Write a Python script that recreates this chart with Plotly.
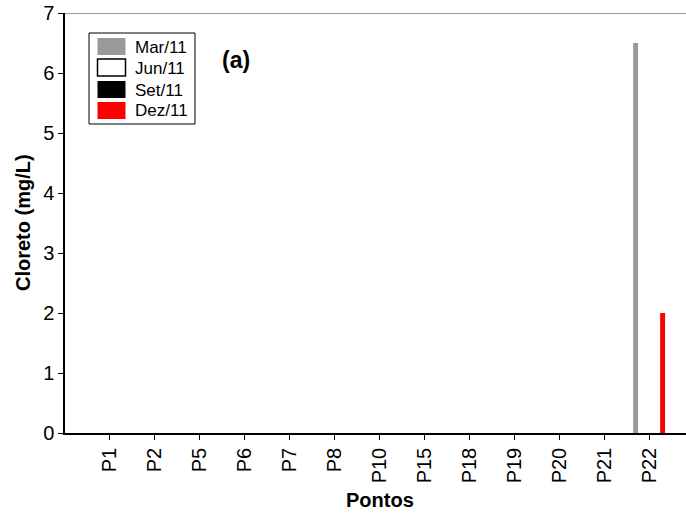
import plotly.graph_objects as go

pontos = ["P1", "P2", "P5", "P6", "P7", "P8", "P10", "P15", "P18", "P19", "P20", "P21", "P22"]
series_names = ["Mar/11", "Jun/11", "Set/11", "Dez/11"]
mar11 = [0, 0, 0, 0, 0, 0, 0, 0, 0, 0, 0, 0, 6.5]
jun11 = [0, 0, 0, 0, 0, 0, 0, 0, 0, 0, 0, 0, 0]
set11 = [0, 0, 0, 0, 0, 0, 0, 0, 0, 0, 0, 0, 0]
dez11 = [0, 0, 0, 0, 0, 0, 0, 0, 0, 0, 0, 0, 2.0]

fills = ["#999999", "#ffffff", "#000000", "#ff0000"]
offsets = [-0.355, -0.155, 0.045, 0.245]
bar_w = 0.11

FONT = "Liberation Sans, Arial, sans-serif"
W, H = 686, 517
ML, MR, MT, MB = 65, 0, 13, 84

fig = go.Figure()
for name, vals, fc, off in zip(series_names, [mar11, jun11, set11, dez11], fills, offsets):
    fig.add_trace(go.Bar(
        x=pontos, y=vals, name=name, width=bar_w, offset=off,
        marker=dict(color=fc, line=dict(width=0)),
        showlegend=False,
    ))

# pixel -> paper (plot-area) coordinates
def px(x):
    return (x - ML) / (W - ML - MR)
def py(y):
    return (H - MB - y) / (H - MT - MB)

# Boxed legend with wide swatches
shapes = [dict(type="rect", xref="paper", yref="paper",
               x0=px(89), x1=px(195), y0=py(124), y1=py(33),
               line=dict(color="black", width=1), fillcolor="white", layer="above")]
annotations = []
row_tops = [38, 59, 81, 102]
for name, top, fc in zip(series_names, row_tops, fills):
    outlined = fc == "#ffffff"
    shapes.append(dict(type="rect", xref="paper", yref="paper",
                       x0=px(97.5), x1=px(125.5), y0=py(top + 17), y1=py(top),
                       line=dict(color="black" if outlined else fc, width=1.5 if outlined else 0),
                       fillcolor=fc, layer="above"))
    annotations.append(dict(xref="paper", yref="paper", x=px(133), y=py(top + 9),
                            xanchor="left", yanchor="middle", text=name, showarrow=False,
                            font=dict(family=FONT, size=17, color="black")))

annotations.append(dict(xref="paper", yref="paper", x=px(220), y=py(60),
                        xanchor="left", yanchor="middle", text="<b>(a)</b>", showarrow=False,
                        font=dict(family=FONT, size=23, color="black")))

# Axis titles
annotations.append(dict(xref="paper", yref="paper", x=px(23), y=py(223),
                        xanchor="center", yanchor="middle", textangle=-90,
                        text="<b>Cloreto (mg/L)</b>", showarrow=False,
                        font=dict(family=FONT, size=20, color="black")))
annotations.append(dict(xref="paper", yref="paper", x=px(380), y=py(500),
                        xanchor="center", yanchor="middle",
                        text="<b>Pontos</b>", showarrow=False,
                        font=dict(family=FONT, size=20, color="black")))

# Top frame line
shapes.append(dict(type="line", xref="paper", yref="y", x0=0, x1=1, y0=7, y1=7,
                   line=dict(color="#7a7a7a", width=1.5)))

fig.update_layout(
    width=W, height=H,
    margin=dict(l=ML, r=MR, t=MT, b=MB),
    plot_bgcolor="white", paper_bgcolor="white",
    barmode="overlay",
    shapes=shapes, annotations=annotations,
    font=dict(family=FONT, color="black"),
)
fig.update_xaxes(
    type="category", range=[-0.98, 12.82],
    showline=True, linecolor="black", linewidth=1.5,
    ticks="outside", ticklen=5, tickcolor="black",
    tickangle=-90, tickfont=dict(size=20, family=FONT),
    showgrid=False, zeroline=False, automargin=False,
)
fig.update_yaxes(
    range=[0, 7], dtick=1,
    showline=True, linecolor="black", linewidth=1.5,
    ticks="outside", ticklen=5, tickcolor="black",
    tickfont=dict(size=20, family=FONT),
    showgrid=False, zeroline=False, automargin=False,
)

fig.write_html("out.html")
